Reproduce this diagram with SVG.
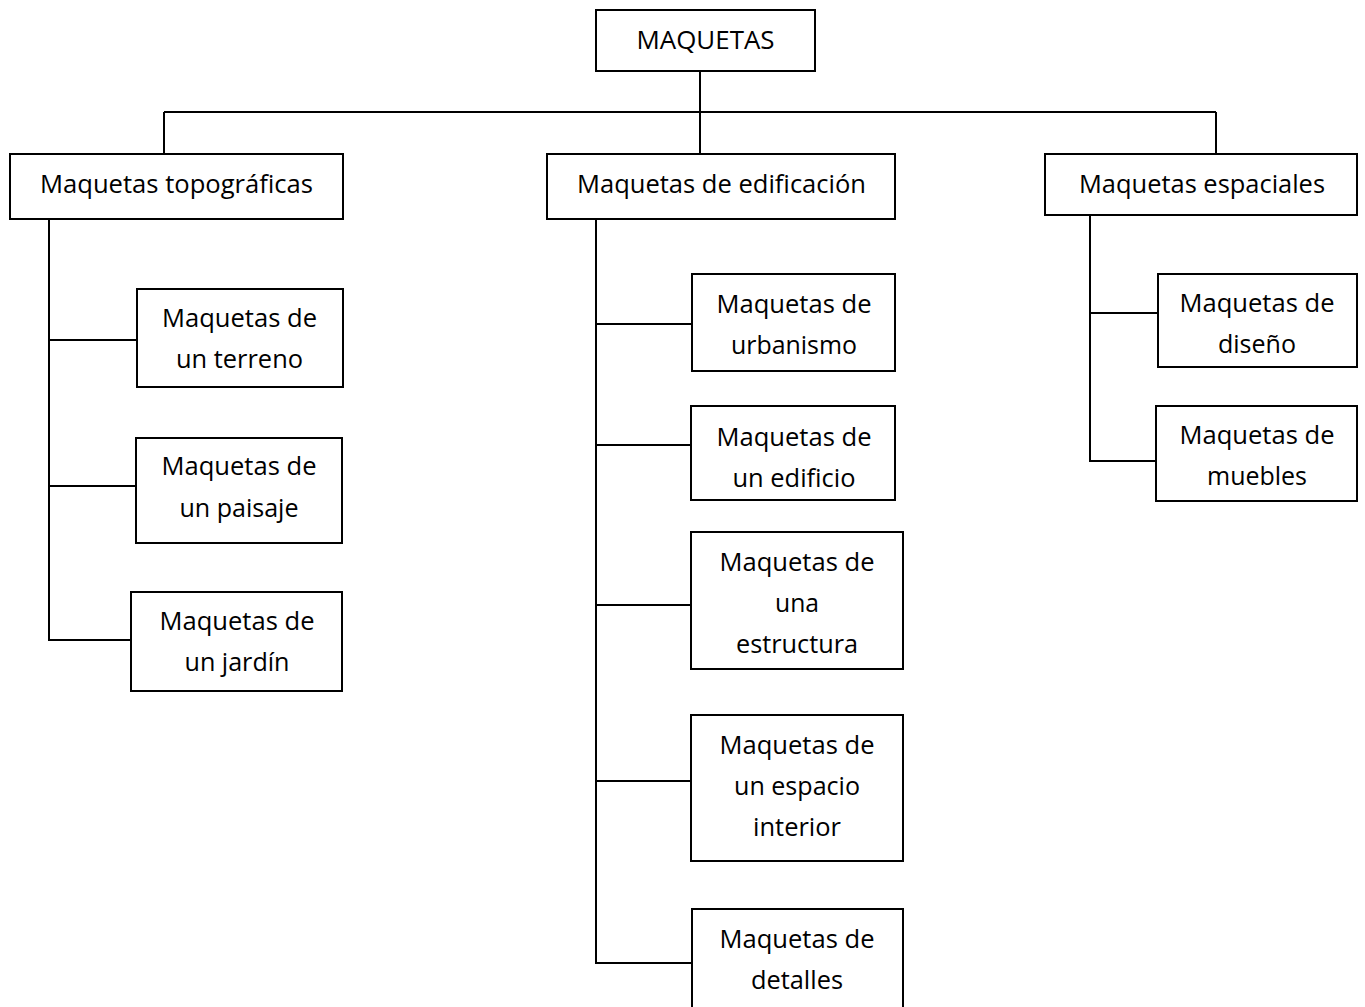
<svg xmlns="http://www.w3.org/2000/svg" width="1365" height="1007" viewBox="0 0 1365 1007">
<style>
.box{fill:#fff;stroke:#000;stroke-width:2}
.ln{fill:none;stroke:#000;stroke-width:2}
text{font-family:"Open Sans","Liberation Sans",sans-serif;font-size:25.5px;fill:#000;text-anchor:middle}
</style>
<rect width="1365" height="1007" fill="#fff"/>
<g id="connectors">
<path class="ln" d="M700,71V154M164,112H1216M164,112V154M1216,112V154"/>
<path class="ln" d="M49,219V640H131M49,340H137M49,486H138"/>
<path class="ln" d="M596,219V963H692M596,324H692M596,445H691M596,605H691M596,781H691"/>
<path class="ln" d="M1090,215V461H1156M1090,313H1158"/>
</g>
<g id="n-root"><rect class="box" x="596" y="10" width="219" height="61"/><text x="705.5" y="49" textLength="138" lengthAdjust="spacingAndGlyphs">MAQUETAS</text></g>
<g id="n-topo"><rect class="box" x="10" y="154" width="333" height="65"/><text x="176.5" y="193" textLength="273" lengthAdjust="spacingAndGlyphs">Maquetas topográficas</text></g>
<g id="n-edif"><rect class="box" x="547" y="154" width="348" height="65"/><text x="721.5" y="193" textLength="289" lengthAdjust="spacingAndGlyphs">Maquetas de edificación</text></g>
<g id="n-esp"><rect class="box" x="1045" y="154" width="312" height="61"/><text x="1202" y="193" textLength="246" lengthAdjust="spacingAndGlyphs">Maquetas espaciales</text></g>
<g id="n-terreno"><rect class="box" x="137" y="289" width="206" height="98"/><text x="239.5" y="327" textLength="155" lengthAdjust="spacingAndGlyphs">Maquetas de</text><text x="239.5" y="368" textLength="127" lengthAdjust="spacingAndGlyphs">un terreno</text></g>
<g id="n-paisaje"><rect class="box" x="136" y="438" width="206" height="105"/><text x="239" y="475" textLength="155" lengthAdjust="spacingAndGlyphs">Maquetas de</text><text x="239" y="517" textLength="119" lengthAdjust="spacingAndGlyphs">un paisaje</text></g>
<g id="n-jardin"><rect class="box" x="131" y="592" width="211" height="99"/><text x="237" y="630" textLength="155" lengthAdjust="spacingAndGlyphs">Maquetas de</text><text x="237" y="671" textLength="105" lengthAdjust="spacingAndGlyphs">un jardín</text></g>
<g id="n-urbanismo"><rect class="box" x="692" y="274" width="203" height="97"/><text x="794" y="313" textLength="155" lengthAdjust="spacingAndGlyphs">Maquetas de</text><text x="794" y="354" textLength="126" lengthAdjust="spacingAndGlyphs">urbanismo</text></g>
<g id="n-edificio"><rect class="box" x="691" y="406" width="204" height="94"/><text x="794" y="446" textLength="155" lengthAdjust="spacingAndGlyphs">Maquetas de</text><text x="794" y="487" textLength="123" lengthAdjust="spacingAndGlyphs">un edificio</text></g>
<g id="n-estructura"><rect class="box" x="691" y="532" width="212" height="137"/><text x="797" y="571" textLength="155" lengthAdjust="spacingAndGlyphs">Maquetas de</text><text x="797" y="612" textLength="44" lengthAdjust="spacingAndGlyphs">una</text><text x="797" y="653" textLength="122" lengthAdjust="spacingAndGlyphs">estructura</text></g>
<g id="n-interior"><rect class="box" x="691" y="715" width="212" height="146"/><text x="797" y="754" textLength="155" lengthAdjust="spacingAndGlyphs">Maquetas de</text><text x="797" y="795" textLength="126" lengthAdjust="spacingAndGlyphs">un espacio</text><text x="797" y="836" textLength="88" lengthAdjust="spacingAndGlyphs">interior</text></g>
<g id="n-detalles"><rect class="box" x="692" y="909" width="211" height="110"/><text x="797" y="948" textLength="155" lengthAdjust="spacingAndGlyphs">Maquetas de</text><text x="797" y="989" textLength="92" lengthAdjust="spacingAndGlyphs">detalles</text></g>
<g id="n-diseno"><rect class="box" x="1158" y="274" width="199" height="93"/><text x="1257" y="312" textLength="155" lengthAdjust="spacingAndGlyphs">Maquetas de</text><text x="1257" y="353" textLength="78" lengthAdjust="spacingAndGlyphs">diseño</text></g>
<g id="n-muebles"><rect class="box" x="1156" y="406" width="201" height="95"/><text x="1257" y="444" textLength="155" lengthAdjust="spacingAndGlyphs">Maquetas de</text><text x="1257" y="485" textLength="100" lengthAdjust="spacingAndGlyphs">muebles</text></g>
</svg>
